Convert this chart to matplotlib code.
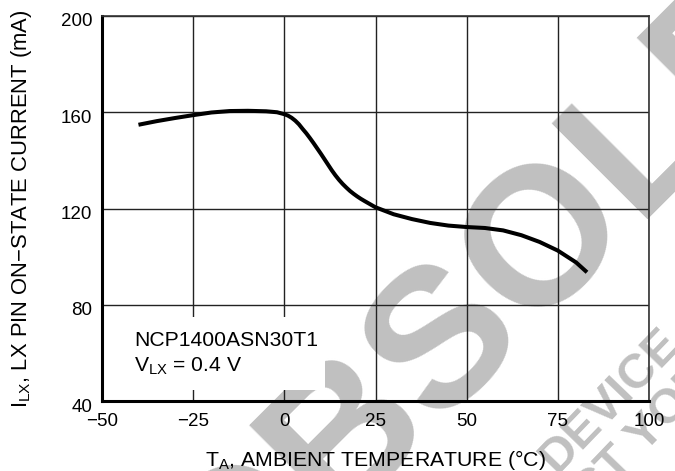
import math
import matplotlib
matplotlib.use("Agg")
import matplotlib.pyplot as plt
from matplotlib.patches import Rectangle
from matplotlib.ticker import FixedLocator
from matplotlib.font_manager import FontProperties
import matplotlib.transforms as mtransforms

plt.rcParams['font.family'] = ['Liberation Sans', 'DejaVu Sans']
plt.rcParams['mathtext.fontset'] = 'custom'
plt.rcParams['mathtext.rm'] = 'Liberation Sans'
plt.rcParams['mathtext.it'] = 'Liberation Sans'
plt.rcParams['mathtext.bf'] = 'Liberation Sans:bold'

# ---- data ----
temperature = [-40, -35, -30, -25, -20, -15, -10, -5, -2, 0, 1, 2, 3, 4, 5, 6, 7, 8,
               9, 10, 11, 12, 13, 14, 15, 16, 17, 18, 19, 20, 21, 22, 25, 30, 35, 40,
               45, 50, 55, 60, 65, 70, 75, 80, 83]
current_ma = [154.8, 156.3, 157.6, 158.8, 159.9, 160.5, 160.6, 160.4, 160.0, 159.2,
              158.6, 157.7, 156.5, 155.0, 153.1, 151.3, 149.3, 147.2, 145.0, 142.8,
              140.5, 138.2, 135.9, 133.8, 131.9, 130.2, 128.7, 127.3, 126.1, 125.0,
              124.0, 123.1, 120.5, 117.6, 115.6, 114.0, 112.9, 112.3, 111.9, 110.9,
              108.9, 106.1, 102.5, 97.6, 93.5]
x_ticks = [-50, -25, 0, 25, 50, 75, 100]
x_tick_labels = ['\u221250', '\u221225', '0', '25', '50', '75', '100']
y_ticks = [40, 80, 120, 160, 200]
y_tick_labels = ['40', '80', '120', '160', '200']
part_name = 'NCP1400ASN30T1'
condition = '$\\mathregular{V_{LX}}$ = 0.4 V'
x_label = '$\\mathregular{T_{A}}$, AMBIENT TEMPERATURE (\u00b0C)'
y_label = '$\\mathregular{I_{LX}}$, LX PIN ON\u2212STATE CURRENT (mA)'
watermark_big = 'OBSOLETE'
watermark_small_1 = 'DEVICE'
watermark_small_2 = 'CONTACT YOUR'

W, H = 675, 471
fig = plt.figure(figsize=(W / 100, H / 100), dpi=100)
renderer = fig.canvas.get_renderer()

# background watermark layer (pixel coordinates, y downwards)
bg = fig.add_axes([0, 0, 1, 1], zorder=-1)
bg.set_xlim(0, W)
bg.set_ylim(H, 0)
bg.axis('off')
wm = '#c0c0c0'


def text_w(s, fp):
    w, h, d = renderer.get_text_width_height_descent(s, fp, ismath=False)
    return w


def place_word(s, k, center, size, angle):
    """Place string s so that the centre of character k lies at `center`."""
    fp = FontProperties(family='Liberation Sans', weight='bold', size=size)
    em = size * 100 / 72.0
    along = text_w(s[:k + 1], fp) - text_w(s[k], fp) / 2.0
    up = 0.36 * em
    th = math.radians(angle)
    ax_dir = (math.cos(th), -math.sin(th))
    up_dir = (-math.sin(th), -math.cos(th))
    x0 = center[0] - along * ax_dir[0] - up * up_dir[0]
    y0 = center[1] - along * ax_dir[1] - up * up_dir[1]
    bg.text(x0, y0, s, rotation=angle, rotation_mode='anchor', ha='left',
            va='baseline', fontproperties=fp, color=wm)


place_word(watermark_big, 3, (533, 226), 142, 45)
place_word(watermark_small_1, 2, (602, 402), 35, 46)
place_word(watermark_small_2, 8, (643, 430), 35, 46)

L, R, B, T = 102 / W, 649 / W, 1 - 401 / H, 1 - 16 / H
ax = fig.add_axes([L, B, R - L, T - B])
ax.set_facecolor('none')
ax.set_xlim(-50, 100)
ax.set_ylim(40, 200)

ax.xaxis.set_major_locator(FixedLocator(x_ticks))
ax.yaxis.set_major_locator(FixedLocator(y_ticks))
ax.set_xticklabels(x_tick_labels)
ax.set_yticklabels(y_tick_labels)
ax.tick_params(axis='both', length=0, labelsize=13.5, colors='black')
ax.tick_params(axis='x', pad=9)
ax.tick_params(axis='y', pad=7)
offset = mtransforms.ScaledTranslation(0, -4 / 100, fig.dpi_scale_trans)
for lab in ax.get_yticklabels():
    lab.set_transform(lab.get_transform() + offset)

ax.grid(True, color='#222222', linewidth=1.0)

for side in ['left', 'bottom']:
    ax.spines[side].set_linewidth(2.2)
    ax.spines[side].set_color('black')
for side in ['top', 'right']:
    ax.spines[side].set_linewidth(1.2)
    ax.spines[side].set_color('#333333')

ax.plot(temperature, current_ma, color='black', linewidth=2.9,
        solid_capstyle='butt', solid_joinstyle='round', zorder=3)

ax.add_patch(Rectangle((0, (401 - 390) / 385), (325 - 102) / 547, (390 - 317) / 385,
                       transform=ax.transAxes, facecolor='white', edgecolor='none',
                       zorder=2))
ax.text((134 - 102) / 547, (401 - 346) / 385, part_name, transform=ax.transAxes,
        ha='left', va='baseline', fontsize=15.2, zorder=4)
ax.text((134 - 102) / 547, (401 - 372) / 385, condition, transform=ax.transAxes,
        ha='left', va='baseline', fontsize=15.2, zorder=4)

fig.text(375 / W, 1 - 466 / H, x_label, ha='center', va='baseline', fontsize=15.3)
fig.text(22 / W, 1 - 209 / H, y_label, ha='center', va='center', rotation=90,
         fontsize=15.8)

fig.savefig('out.png', dpi=100)
